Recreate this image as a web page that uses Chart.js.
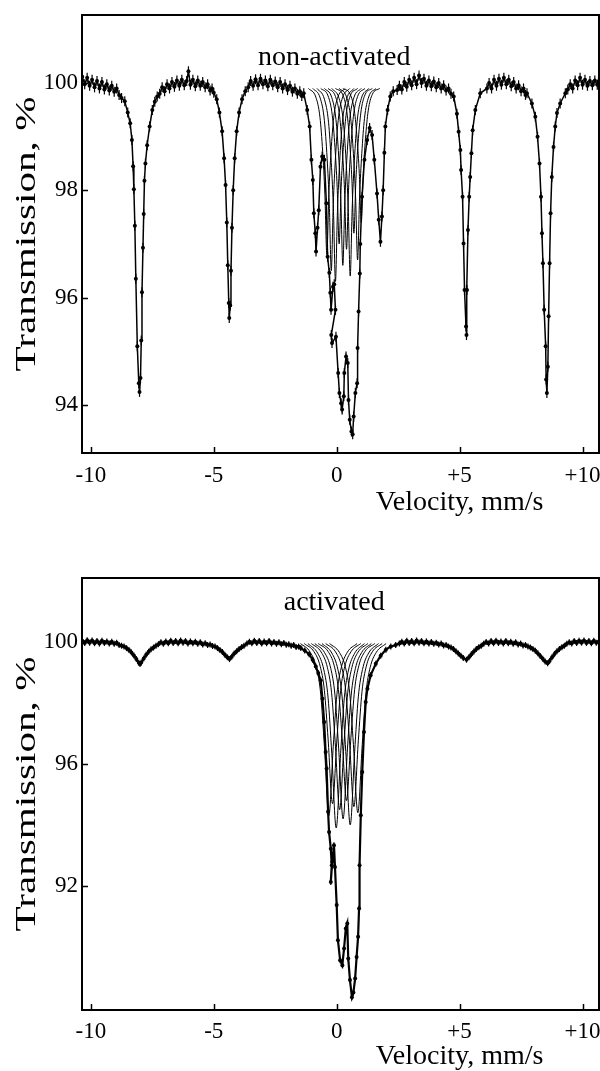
<!DOCTYPE html>
<html>
<head>
<meta charset="utf-8">
<script src="https://cdn.jsdelivr.net/npm/chart.js@4.4.1/dist/chart.umd.min.js"></script>
<style>
  html, body { margin: 0; padding: 0; background: #fff; }
  #wrap { position: relative; width: 600px; height: 1071px; }
  canvas { position: absolute; left: 0; }
  #topChart { top: 0; }
  #bottomChart { top: 535px; }
</style>
</head>
<body>
<div id="wrap">
  <canvas id="topChart" width="600" height="535"></canvas>
  <canvas id="bottomChart" width="600" height="536"></canvas>
</div>
<script>
// ---- Axis ticks ----
const xTickValues = [-10, -5, 0, 5, 10];
const xTickLabels = ["-10", "-5", "0", "+5", "+10"];
const topYTicks = [94, 96, 98, 100];
const bottomYTicks = [92, 96, 100];
const panelTitles = ["non-activated", "activated"];

// ---- Non-activated spectrum: [velocity mm/s, transmission %] ----
const nonActivatedPoints = [
  [-10.35,100.12],[-10.25,99.98],[-10.15,100.1],[-10.05,99.95],[-9.95,100.06],[-9.85,99.92],[-9.75,100.04],[-9.65,99.9],
  [-9.55,100.02],[-9.45,99.88],[-9.35,99.98],[-9.25,99.86],[-9.15,99.95],[-9.05,99.84],[-8.95,99.9],[-8.85,99.78],[-8.75,99.72],
  [-8.62,99.66],[-8.5,99.45],[-8.4,99.25],[-8.33,98.94],[-8.28,98.45],[-8.25,98.02],[-8.21,97.34],[-8.17,96.35],[-8.11,95.09],
  [-8.05,94.4],[-8.02,94.24],[-7.98,94.5],[-7.95,95.2],[-7.92,96.1],[-7.88,96.93],[-7.85,97.56],[-7.82,98.18],[-7.78,98.5],
  [-7.71,98.84],[-7.61,99.19],[-7.5,99.5],[-7.4,99.65],[-7.3,99.75],
  [-7.2,99.8],[-7.1,99.92],[-7.0,99.85],[-6.9,99.98],[-6.8,99.9],[-6.7,100.02],[-6.6,99.93],[-6.5,100.05],[-6.4,99.95],
  [-6.3,100.06],[-6.2,99.96],[-6.1,100.04],[-6.03,100.22],[-5.95,99.97],[-5.85,100.06],[-5.75,99.94],[-5.65,100.05],
  [-5.55,99.95],[-5.45,100.02],[-5.35,99.92],[-5.25,99.98],[-5.15,99.86],[-5.07,99.9],
  [-5.0,99.82],[-4.88,99.7],[-4.77,99.45],[-4.66,99.1],[-4.58,98.6],[-4.52,98.1],[-4.47,97.4],[-4.43,96.6],[-4.39,95.9],
  [-4.37,95.62],[-4.33,95.85],[-4.3,96.5],[-4.26,97.3],[-4.21,98.0],[-4.15,98.6],[-4.07,99.1],[-3.97,99.45],[-3.85,99.7],[-3.72,99.85],
  [-3.6,99.92],[-3.5,100.04],[-3.4,99.95],[-3.3,100.07],[-3.2,99.96],[-3.1,100.08],[-3.0,99.98],[-2.9,100.05],[-2.8,99.94],
  [-2.7,100.06],[-2.6,99.96],[-2.5,100.03],[-2.4,99.92],[-2.3,100.02],[-2.2,99.9],[-2.1,99.98],[-2.0,99.87],[-1.9,99.95],
  [-1.8,99.84],[-1.7,99.9],[-1.6,99.8],[-1.5,99.85],[-1.42,99.76],
  [-1.34,99.81],[-1.2,99.5],[-1.1,99.19],[-1.03,98.57],[-0.97,98.19],[-0.93,97.57],[-0.87,97.2],[-0.84,96.86],[-0.78,97.3],
  [-0.73,97.63],[-0.66,98.44],[-0.59,98.63],[-0.5,98.57],[-0.42,97.76],[-0.37,96.76],[-0.3,96.46],[-0.26,96.09],[-0.23,95.77],
  [-0.15,96.2],[-0.1,96.25],[-0.05,95.77],[-0.22,95.3],[-0.19,95.15],[-0.03,95.27],[0.06,94.59],[0.11,94.22],[0.18,94.03],
  [0.22,93.91],[0.29,94.16],[0.31,94.59],[0.38,94.9],[0.45,94.78],[0.48,94.09],[0.53,93.72],[0.6,93.5],[0.65,93.45],
  [0.69,93.78],[0.76,94.22],[0.83,94.4],[0.85,95.06],[0.89,95.74],[0.94,96.45],[0.96,97.0],[1.03,97.88],[1.13,98.57],
  [1.24,98.94],[1.34,99.16],[1.44,99.03],[1.53,98.57],[1.64,97.94],[1.71,97.45],[1.78,97.04],[1.84,97.51],[1.89,98.0],
  [1.94,98.7],[1.98,99.19],[2.07,99.5],[2.18,99.75],[2.3,99.85],[2.46,99.87],
  [2.55,99.95],[2.65,99.88],[2.75,100.02],[2.85,99.93],[2.95,100.06],[3.05,99.96],[3.15,100.1],[3.25,99.98],[3.35,100.14],
  [3.45,100.0],[3.55,100.08],[3.65,99.95],[3.75,100.05],[3.85,99.94],[3.95,100.03],[4.05,99.92],[4.15,100.0],[4.25,99.9],
  [4.35,99.96],[4.45,99.86],[4.55,99.9],[4.65,99.8],
  [4.76,99.75],[4.89,99.43],[4.96,99.09],[5.03,98.75],[5.06,98.38],[5.12,97.88],[5.16,97.01],[5.2,96.14],[5.26,95.46],
  [5.28,95.3],[5.3,96.14],[5.34,97.26],[5.39,97.88],[5.43,98.25],[5.48,98.69],[5.53,99.12],[5.64,99.5],[5.84,99.81],[6.11,99.9],
  [6.2,100.0],[6.3,99.9],[6.4,100.06],[6.5,99.95],[6.6,100.08],[6.7,99.97],[6.8,100.1],[6.9,99.98],[7.0,100.06],[7.1,99.94],
  [7.2,100.02],[7.3,99.9],[7.4,99.96],[7.5,99.85],[7.6,99.9],[7.68,99.78],
  [7.74,99.81],[7.94,99.62],[8.08,99.37],[8.17,99.0],[8.25,98.5],[8.31,97.88],[8.35,97.2],[8.39,96.64],[8.44,95.77],[8.5,95.09],
  [8.52,94.47],[8.55,94.22],[8.59,94.71],[8.62,95.65],[8.66,96.64],[8.7,97.57],[8.75,98.25],[8.82,98.81],[8.89,99.19],
  [8.96,99.44],[9.09,99.62],[9.3,99.81],
  [9.4,99.88],[9.5,99.98],[9.6,99.9],[9.7,100.05],[9.8,99.96],[9.9,100.1],[10.0,99.97],[10.1,100.06],[10.2,99.95],
  [10.3,100.04],[10.4,99.96],[10.5,100.05],[10.6,99.97],[10.65,100.03]
];

// ---- Non-activated fitted subspectra (central part) ----
const nonActivatedSubspectra = [
  [[-1.15,99.9],[-0.85,99.74],[-0.68,99.36],[-0.57,98.72],[-0.48,97.92],[-0.4,96.8],[-0.32,97.92],[-0.23,98.72],[-0.12,99.36],[0.05,99.74],[0.35,99.9]],
  [[-0.97,99.9],[-0.67,99.72],[-0.5,99.3],[-0.39,98.6],[-0.3,97.73],[-0.22,96.5],[-0.14,97.73],[-0.05,98.6],[0.06,99.3],[0.23,99.72],[0.53,99.9]],
  [[-0.8,99.9],[-0.5,99.7],[-0.33,99.26],[-0.22,98.52],[-0.13,97.6],[-0.05,96.3],[0.03,97.6],[0.12,98.52],[0.23,99.26],[0.4,99.7],[0.7,99.9]],
  [[-0.65,99.9],[-0.35,99.76],[-0.18,99.4],[-0.07,98.8],[0.02,98.05],[0.1,97.0],[0.18,98.05],[0.27,98.8],[0.38,99.4],[0.55,99.76],[0.85,99.9]],
  [[-0.5,99.9],[-0.2,99.73],[-0.03,99.32],[0.08,98.64],[0.17,97.79],[0.25,96.6],[0.33,97.79],[0.42,98.64],[0.53,99.32],[0.7,99.73],[1.0,99.9]],
  [[-0.35,99.9],[-0.05,99.75],[0.12,99.38],[0.23,98.76],[0.32,97.99],[0.4,96.9],[0.48,97.99],[0.57,98.76],[0.68,99.38],[0.85,99.75],[1.15,99.9]],
  [[-0.2,99.9],[0.1,99.71],[0.27,99.28],[0.38,98.56],[0.47,97.66],[0.55,96.4],[0.63,97.66],[0.72,98.56],[0.83,99.28],[1.0,99.71],[1.3,99.9]],
  [[-0.05,99.9],[0.25,99.78],[0.42,99.44],[0.53,98.88],[0.62,98.18],[0.7,97.2],[0.78,98.18],[0.87,98.88],[0.98,99.44],[1.15,99.78],[1.45,99.9]],
  [[0.1,99.9],[0.4,99.74],[0.57,99.34],[0.68,98.68],[0.77,97.86],[0.85,96.7],[0.93,97.86],[1.02,98.68],[1.13,99.34],[1.3,99.74],[1.6,99.9]],
  [[0.25,99.9],[0.55,99.79],[0.72,99.48],[0.83,98.96],[0.92,98.31],[1.0,97.4],[1.08,98.31],[1.17,98.96],[1.28,99.48],[1.45,99.79],[1.75,99.9]]
];

// ---- Activated spectrum ----
const activatedPoints = [
  [-10.35,100.04],[-10.25,99.97],[-10.15,100.06],[-10.05,99.98],[-9.95,100.05],[-9.85,99.96],[-9.75,100.03],[-9.65,99.95],
  [-9.55,100.04],[-9.45,99.97],[-9.35,100.02],[-9.25,99.95],[-9.15,100.01],[-9.05,99.94],[-8.95,99.98],[-8.85,99.9],[-8.75,99.88],
  [-8.65,99.85],[-8.55,99.8],[-8.45,99.74],[-8.35,99.66],[-8.25,99.56],[-8.15,99.44],[-8.05,99.32],[-8.0,99.28],[-7.95,99.33],
  [-7.85,99.46],[-7.75,99.58],[-7.65,99.68],[-7.55,99.76],[-7.45,99.82],[-7.35,99.88],
  [-7.25,99.93],[-7.15,99.99],[-7.05,99.94],[-6.95,100.02],[-6.85,99.96],[-6.75,100.04],[-6.65,99.97],[-6.55,100.03],
  [-6.45,99.96],[-6.35,100.05],[-6.25,99.98],[-6.15,100.03],[-6.05,99.95],[-5.95,100.02],[-5.85,99.96],[-5.75,100.01],
  [-5.65,99.94],[-5.55,99.99],[-5.45,99.92],[-5.35,99.96],[-5.25,99.9],[-5.15,99.92],[-5.05,99.87],
  [-4.95,99.85],[-4.85,99.8],[-4.75,99.74],[-4.65,99.67],[-4.55,99.58],[-4.45,99.5],[-4.36,99.44],[-4.27,99.52],[-4.17,99.62],
  [-4.07,99.7],[-3.97,99.77],[-3.87,99.83],[-3.77,99.88],
  [-3.65,99.95],[-3.55,100.01],[-3.45,99.96],[-3.35,100.04],[-3.25,99.97],[-3.15,100.03],[-3.05,99.95],[-2.95,100.02],
  [-2.85,99.96],[-2.75,100.03],[-2.65,99.95],[-2.55,100.0],[-2.45,99.94],[-2.35,99.99],[-2.25,99.93],[-2.15,99.97],
  [-2.05,99.91],[-1.95,99.93],[-1.85,99.88],[-1.75,99.9],[-1.65,99.84],[-1.55,99.85],
  [-1.46,99.8],[-1.3,99.72],[-1.12,99.6],[-0.98,99.42],[-0.85,99.2],[-0.75,98.98],[-0.65,98.74],[-0.58,98.14],[-0.51,97.38],
  [-0.45,96.39],[-0.41,95.85],[-0.35,94.43],[-0.31,93.77],[-0.24,93.22],[-0.2,92.68],[-0.24,92.13],[-0.18,92.79],[-0.11,93.33],
  [-0.07,92.62],[0,91.37],[0.05,90.22],[0.14,89.56],[0.23,89.4],[0.3,89.95],[0.37,90.6],[0.43,90.77],[0.47,89.62],[0.54,88.91],
  [0.62,88.35],[0.68,88.5],[0.75,88.96],[0.81,89.67],[0.87,90.33],[0.91,91.26],[0.93,92.68],[0.98,94.32],[1.04,95.74],
  [1.11,97.05],[1.18,98.03],[1.25,98.47],[1.38,98.91],[1.59,99.29],[1.79,99.55],[2.0,99.75],[2.2,99.85],[2.4,99.9],
  [2.55,99.95],[2.65,100.01],[2.75,99.95],[2.85,100.04],[2.95,99.97],[3.05,100.03],[3.15,99.96],[3.25,100.05],[3.35,99.98],
  [3.45,100.03],[3.55,99.96],[3.65,100.02],[3.75,99.95],[3.85,100.0],[3.95,99.94],[4.05,99.98],[4.15,99.92],[4.25,99.95],
  [4.35,99.89],[4.45,99.9],[4.55,99.85],
  [4.65,99.82],[4.75,99.77],[4.85,99.7],[4.95,99.62],[5.05,99.55],[5.15,99.48],[5.28,99.42],[5.38,99.5],[5.48,99.6],
  [5.58,99.69],[5.68,99.77],[5.78,99.83],[5.88,99.88],
  [5.98,99.94],[6.08,100.0],[6.18,99.95],[6.28,100.03],[6.38,99.96],[6.48,100.04],[6.58,99.97],[6.68,100.02],[6.78,99.95],
  [6.88,100.03],[6.98,99.96],[7.08,100.01],[7.18,99.94],[7.28,99.99],[7.38,99.92],[7.48,99.95],[7.58,99.89],[7.68,99.9],[7.78,99.85],
  [7.88,99.82],[7.98,99.77],[8.08,99.71],[8.18,99.63],[8.28,99.54],[8.38,99.45],[8.48,99.36],[8.58,99.3],[8.66,99.38],
  [8.76,99.5],[8.86,99.61],[8.96,99.7],[9.06,99.77],[9.16,99.83],[9.26,99.88],
  [9.36,99.94],[9.46,99.99],[9.56,99.95],[9.66,100.03],[9.76,99.97],[9.86,100.04],[9.96,99.98],[10.06,100.05],[10.16,99.97],
  [10.26,100.03],[10.36,99.96],[10.46,100.04],[10.56,99.98],[10.66,100.02]
];

// ---- Activated fitted subspectra ----
const activatedSubspectra = [
  [[-1.47,99.95],[-1.07,99.66],[-0.82,99.14],[-0.65,98.29],[-0.5,96.58],[-0.32,94.3],[-0.14,96.58],[0.01,98.29],[0.18,99.14],[0.43,99.66],[0.83,99.95]],
  [[-1.32,99.95],[-0.92,99.68],[-0.67,99.2],[-0.5,98.41],[-0.35,96.82],[-0.17,94.7],[0.01,96.82],[0.16,98.41],[0.33,99.2],[0.58,99.68],[0.98,99.95]],
  [[-1.17,99.95],[-0.77,99.63],[-0.52,99.08],[-0.35,98.17],[-0.2,96.34],[-0.02,93.9],[0.16,96.34],[0.31,98.17],[0.48,99.08],[0.73,99.63],[1.13,99.95]],
  [[-1.03,99.95],[-0.63,99.67],[-0.38,99.17],[-0.21,98.35],[-0.06,96.7],[0.12,94.5],[0.3,96.7],[0.45,98.35],[0.62,99.17],[0.87,99.67],[1.27,99.95]],
  [[-0.89,99.95],[-0.49,99.65],[-0.24,99.13],[-0.07,98.26],[0.08,96.52],[0.26,94.2],[0.44,96.52],[0.59,98.26],[0.76,99.13],[1.01,99.65],[1.41,99.95]],
  [[-0.75,99.95],[-0.35,99.69],[-0.1,99.22],[0.07,98.44],[0.22,96.88],[0.4,94.8],[0.58,96.88],[0.73,98.44],[0.9,99.22],[1.15,99.69],[1.55,99.95]],
  [[-0.6,99.95],[-0.2,99.64],[0.05,99.1],[0.22,98.2],[0.37,96.4],[0.55,94.0],[0.73,96.4],[0.88,98.2],[1.05,99.1],[1.3,99.64],[1.7,99.95]],
  [[-0.45,99.95],[-0.05,99.68],[0.2,99.19],[0.37,98.38],[0.52,96.76],[0.7,94.6],[0.88,96.76],[1.03,98.38],[1.2,99.19],[1.45,99.68],[1.85,99.95]],
  [[-0.29,99.95],[0.11,99.66],[0.36,99.16],[0.53,98.32],[0.68,96.64],[0.86,94.4],[1.04,96.64],[1.19,98.32],[1.36,99.16],[1.61,99.66],[2.01,99.95]]
];

const FONT = "'Liberation Serif', 'Times New Roman', serif";
Chart.defaults.font.family = FONT;
Chart.defaults.color = "#000";

const toXY = arr => arr.map(p => ({ x: p[0], y: p[1] }));

// ---- Cadre, graduations intérieures, titres ----
const framePlugin = {
  id: "frame",
  afterDatasetsDraw(chart, args, opts) {
    const { ctx, chartArea: a, scales: { x, y } } = chart;
    ctx.save();
    ctx.strokeStyle = "#000";
    ctx.lineWidth = 2;
    ctx.strokeRect(a.left, a.top, a.right - a.left, a.bottom - a.top);
    ctx.lineWidth = 1.5;
    ctx.beginPath();
    x.ticks.forEach(t => {
      const px = Math.round(x.getPixelForValue(t.value)) + 0.5;
      ctx.moveTo(px, a.bottom);
      ctx.lineTo(px, a.bottom - 6);
    });
    y.ticks.forEach(t => {
      const py = Math.round(y.getPixelForValue(t.value)) + 0.5;
      ctx.moveTo(a.left, py);
      ctx.lineTo(a.left + 6, py);
    });
    ctx.stroke();
    ctx.fillStyle = "#000";
    ctx.textAlign = "center";
    ctx.textBaseline = "middle";
    ctx.font = "28px " + FONT;
    ctx.fillText(opts.label, x.getPixelForValue(opts.labelAt[0]), y.getPixelForValue(opts.labelAt[1]));
    ctx.fillText("Velocity, mm/s", x.getPixelForValue(5), a.bottom + opts.xTitleOffset);
    // titre de l'axe Y, étiré comme dans la figure d'origine
    ctx.translate(27, (a.top + a.bottom) / 2);
    ctx.rotate(-Math.PI / 2);
    ctx.scale(1.37, 1);
    ctx.font = "30px " + FONT;
    ctx.fillText("Transmission, %", 0, 0);
    ctx.restore();
  }
};

function buildChart(canvasId, cfg) {
  const datasets = [
    {
      data: toXY(cfg.points),
      showLine: true,
      borderColor: "#000",
      borderWidth: cfg.lineWidth,
      pointRadius: 2,
      pointBackgroundColor: "#000",
      pointBorderWidth: 0
    },
    {
      data: toXY(cfg.points),
      showLine: false,
      pointStyle: "line",
      rotation: 90,
      pointRadius: cfg.errRadius,
      pointBorderColor: "#000",
      pointBorderWidth: 1.2
    }
  ];
  cfg.subspectra.forEach(s => datasets.push({
    data: toXY(s),
    showLine: true,
    borderColor: "#000",
    borderWidth: 1,
    pointRadius: 0,
    cubicInterpolationMode: "monotone"
  }));

  return new Chart(document.getElementById(canvasId), {
    type: "scatter",
    data: { datasets },
    options: {
      responsive: false,
      animation: false,
      devicePixelRatio: 1,
      layout: { autoPadding: false, padding: { top: cfg.padTop, right: 1, left: 0, bottom: 0 } },
      plugins: {
        legend: { display: false },
        tooltip: { enabled: false },
        frame: { label: cfg.title, labelAt: cfg.titleAt, xTitleOffset: cfg.xTitleOffset }
      },
      scales: {
        x: {
          type: "linear",
          min: -10.36,
          max: 10.67,
          afterBuildTicks: s => { s.ticks = xTickValues.map(v => ({ value: v })); },
          afterFit: s => { s.height = cfg.xAxisHeight; s.paddingLeft = 0; s.paddingRight = 0; },
          grid: { display: false, drawTicks: false },
          border: { display: false },
          ticks: {
            autoSkip: false,
            maxRotation: 0,
            padding: cfg.xTickPad,
            font: { size: 23 },
            color: "#000",
            callback: v => xTickLabels[xTickValues.indexOf(v)]
          }
        },
        y: {
          type: "linear",
          min: cfg.yMin,
          max: cfg.yMax,
          afterBuildTicks: s => { s.ticks = cfg.yTicks.map(v => ({ value: v })); },
          afterFit: s => { s.width = 82; s.paddingTop = 0; s.paddingBottom = 0; },
          grid: { display: false, drawTicks: false },
          border: { display: false },
          ticks: { padding: 4, font: { size: 23 }, color: "#000", callback: v => String(v) },
          title: { display: false }
        }
      }
    },
    plugins: [framePlugin]
  });
}

buildChart("topChart", {
  points: nonActivatedPoints,
  subspectra: nonActivatedSubspectra,
  title: panelTitles[0],
  titleAt: [-0.1, 100.47],
  yTicks: topYTicks,
  yMin: 93.1, yMax: 101.27,
  padTop: 15, xAxisHeight: 82, xTickPad: 9, xTitleOffset: 50,
  lineWidth: 1.5, errRadius: 5
});

buildChart("bottomChart", {
  points: activatedPoints,
  subspectra: activatedSubspectra,
  title: panelTitles[1],
  titleAt: [-0.1, 101.3],
  yTicks: bottomYTicks,
  yMin: 87.93, yMax: 102.1,
  padTop: 43, xAxisHeight: 61, xTickPad: 8, xTitleOffset: 47,
  lineWidth: 2.2, errRadius: 3
});
</script>
</body>
</html>
